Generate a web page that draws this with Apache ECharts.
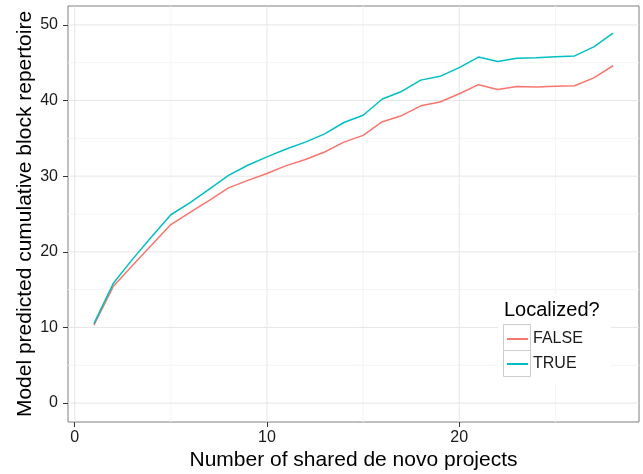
<!DOCTYPE html>
<html>
<head>
<meta charset="utf-8">
<script src="https://cdn.jsdelivr.net/npm/echarts@6/dist/echarts.min.js"></script>
<style>
  html, body { margin: 0; padding: 0; background: #ffffff; }
  #chart { width: 643px; height: 474px; }
</style>
</head>
<body>
<div id="chart"></div>
<script>
// Number of shared de novo projects (x) and the model-predicted cumulative block repertoire
const projects = [1, 2, 3, 4, 5, 6, 7, 8, 9, 10, 11, 12, 13, 14, 15, 16, 17, 18, 19, 20, 21, 22, 23, 24, 25, 26, 27, 28];
const repertoireFalse = [10.3, 15.4, 18.2, 20.9, 23.6, 25.2, 26.8, 28.45, 29.45, 30.35, 31.4, 32.2, 33.2, 34.5, 35.4, 37.2, 38.0, 39.3, 39.8, 40.9, 42.1, 41.45, 41.85, 41.8, 41.9, 41.95, 43.0, 44.6];
const repertoireTrue = [10.5, 15.8, 19.0, 22.0, 24.9, 26.5, 28.3, 30.1, 31.45, 32.55, 33.6, 34.5, 35.6, 37.1, 38.05, 40.2, 41.2, 42.7, 43.2, 44.35, 45.75, 45.15, 45.6, 45.65, 45.8, 45.9, 47.1, 48.9];
const groupNames = ['FALSE', 'TRUE'];

// Axis ticks and grid lines
const xMajorTicks = [0, 10, 20];
const xMinorTicks = [5, 15, 25];
const yMajorTicks = [0, 10, 20, 30, 40, 50];
const yMinorTicks = [5, 15, 25, 35, 45];
const xRange = [-0.35, 29.35];
const yRange = [-2.5, 52.5];

const FONT = '"Liberation Sans", Arial, Helvetica, sans-serif';
const colors = ['#F8766D', '#00BFC4'];

function pairs(xs, ys) { return xs.map((x, i) => [x, ys[i]]); }

function gridSeries(values, dir, color) {
  return values.map(v => ({
    type: 'line',
    silent: true,
    z: 1,
    symbol: 'none',
    lineStyle: { color: color, width: 1 },
    data: dir === 'v' ? [[v, yRange[0]], [v, yRange[1]]] : [[xRange[0], v], [xRange[1], v]],
    tooltip: { show: false }
  }));
}

const series = [
  ...gridSeries(xMinorTicks, 'v', '#f4f4f4'),
  ...gridSeries(yMinorTicks, 'h', '#f4f4f4'),
  ...gridSeries(xMajorTicks, 'v', '#e6e6e6'),
  ...gridSeries(yMajorTicks, 'h', '#e6e6e6'),
  {
    name: groupNames[0], type: 'line', z: 3, symbol: 'none', showSymbol: false,
    lineStyle: { color: colors[0], width: 1.5 }, itemStyle: { color: colors[0] },
    data: pairs(projects, repertoireFalse)
  },
  {
    name: groupNames[1], type: 'line', z: 3, symbol: 'none', showSymbol: false,
    lineStyle: { color: colors[1], width: 1.5 }, itemStyle: { color: colors[1] },
    data: pairs(projects, repertoireTrue)
  }
];

const chart = echarts.init(document.getElementById('chart'), null, { renderer: 'canvas' });
chart.setOption({
  animation: false,
  backgroundColor: '#ffffff',
  textStyle: { fontFamily: FONT },
  grid: {
    left: 68, right: 4, top: 6, bottom: 52,
    outerBoundsMode: 'none',
    show: true, backgroundColor: '#ffffff', borderColor: '#7f7f7f', borderWidth: 1
  },
  xAxis: {
    type: 'value', min: xRange[0], max: xRange[1],
    name: 'Number of shared de novo projects', nameLocation: 'middle', nameGap: 28,
    nameMoveOverlap: false,
    nameTextStyle: { fontSize: 21, color: '#000000', fontFamily: FONT },
    axisLine: { show: false, onZero: false },
    axisTick: { show: true, length: 5, customValues: xMajorTicks, lineStyle: { color: '#333333', width: 1 } },
    axisLabel: { customValues: xMajorTicks, margin: 8, fontSize: 16, color: '#1a1a1a', fontFamily: FONT },
    splitLine: { show: false }
  },
  yAxis: {
    type: 'value', min: yRange[0], max: yRange[1],
    name: 'Model predicted cumulative block repertoire', nameLocation: 'middle', nameGap: 32, nameRotate: 90,
    nameMoveOverlap: false,
    nameTextStyle: { fontSize: 21, color: '#000000', fontFamily: FONT },
    axisLine: { show: false, onZero: false },
    axisTick: { show: true, length: 5, customValues: yMajorTicks, lineStyle: { color: '#333333', width: 1 } },
    axisLabel: { customValues: yMajorTicks, margin: 10, fontSize: 16, color: '#1a1a1a', fontFamily: FONT },
    splitLine: { show: false }
  },
  legend: {
    data: groupNames,
    orient: 'vertical',
    left: 506, top: 331,
    padding: 0,
    itemWidth: 21, itemHeight: 14, itemGap: 9,
    selectedMode: false,
    z: 6,
    itemStyle: { opacity: 0 },
    textStyle: { fontSize: 16, color: '#1a1a1a', lineHeight: 14, fontFamily: FONT }
  },
  graphic: {
    elements: [
      { type: 'rect', z: 4, silent: true, shape: { x: 498, y: 294, width: 113, height: 90 }, style: { fill: '#ffffff' } },
      { type: 'rect', z: 5, silent: true, shape: { x: 503.5, y: 324.5, width: 27, height: 26 }, style: { fill: '#ffffff', stroke: '#cccccc', lineWidth: 1 } },
      { type: 'rect', z: 5, silent: true, shape: { x: 503.5, y: 350.5, width: 27, height: 26 }, style: { fill: '#ffffff', stroke: '#cccccc', lineWidth: 1 } },
      { type: 'text', z: 5, silent: true, x: 504, y: 310, style: { text: 'Localized?', font: '20px ' + FONT, fill: '#000000', verticalAlign: 'middle', align: 'left' } }
    ]
  },
  series: series
});
</script>
</body>
</html>
